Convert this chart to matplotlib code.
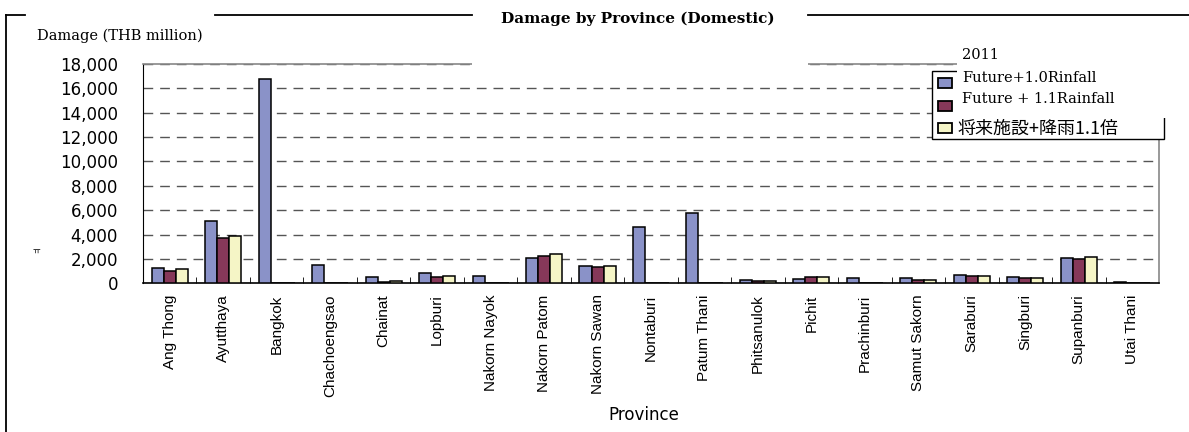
import numpy as np
import matplotlib
matplotlib.use("Agg")
import matplotlib.pyplot as plt
from matplotlib.lines import Line2D
from matplotlib.patches import Rectangle

plt.rcParams['font.family'] = ['DejaVu Sans', 'Noto Sans CJK JP']

# data (THB million)
provinces = ['Ang Thong', 'Ayutthaya', 'Bangkok', 'Chachoengsao', 'Chainat', 'Lopburi',
             'Nakorn Nayok', 'Nakorn Patom', 'Nakorn Sawan', 'Nontaburi', 'Patum Thani',
             'Phitsanulok', 'Pichit', 'Prachinburi', 'Samut Sakorn', 'Saraburi',
             'Singburi', 'Supanburi', 'Utai Thani']
damage_2011 = [1250, 5130, 16800, 1500, 490, 820, 600, 2110, 1400, 4630, 5730,
               270, 380, 410, 410, 655, 490, 2050, 100]
damage_fut10 = [1040, 3700, 0, 0, 80, 520, 0, 2220, 1320, 0, 0,
                190, 490, 0, 245, 560, 410, 1970, 0]
damage_fut11 = [1180, 3890, 0, 0, 190, 575, 0, 2440, 1450, 0, 0,
                220, 520, 0, 300, 600, 460, 2140, 30]

series = [damage_2011, damage_fut10, damage_fut11]
legend_labels = ['Future+1.0Rinfall', 'Future + 1.1Rainfall', '将来施設+降雨1.1倍']
colors = ['#8A92C8', '#863859', '#F5F5C6']

W, H = 1189, 432
fig = plt.figure(figsize=(W / 100, H / 100), dpi=100)
ax = fig.add_axes([143 / W, 1 - 283.3 / H, (1159 - 143) / W, (283.3 - 64) / H])

x = np.arange(len(provinces)) + 0.5
bw = 0.225
for k, vals in enumerate(series):
    ax.bar(x + (k - 1) * bw, vals, width=bw, color=colors[k], edgecolor='black',
           linewidth=1.1, zorder=3)

ax.set_xlim(0, len(provinces))
ax.set_ylim(0, 18000)
ax.set_yticks(np.arange(0, 18001, 2000))
ax.set_yticklabels([f'{v:,}' for v in range(0, 18001, 2000)], fontsize=12)
ax.tick_params(axis='y', length=0, pad=18)

ax.set_xticks(x)
ax.set_xticklabels(provinces, rotation=90, fontsize=11, family='Liberation Sans')
ax.set_xticks(np.arange(1, len(provinces)), minor=True)
ax.tick_params(axis='x', which='major', length=0, pad=8)
ax.tick_params(axis='x', which='minor', length=4, direction='in', color='black')

ax.grid(axis='y', color='#555555', linestyle=(0, (7, 5)), linewidth=1.0, zorder=1)
ax.spines['left'].set_color('black')
ax.spines['bottom'].set_color('black')
ax.spines['bottom'].set_linewidth(1.2)
ax.spines['top'].set_color('#888888')
ax.spines['right'].set_color('#888888')
ax.spines['top'].set_linewidth(1.2)
ax.spines['right'].set_linewidth(1.2)

# outer frame (broken top line like the reference)
for xs in [(6, 25), (215, 472), (808, 1189)]:
    fig.add_artist(Line2D([xs[0] / W, xs[1] / W], [1 - 15 / H] * 2,
                          transform=fig.transFigure, color='black', lw=1.3))
fig.add_artist(Line2D([6 / W, 6 / W], [1 - 15 / H, 0], transform=fig.transFigure,
                      color='black', lw=1.3))

# white title box hides the plot's top border under the title
fig.patches.append(Rectangle((472 / W, 1 - 67 / H), (808 - 472) / W, 58 / H,
                             transform=fig.transFigure, facecolor='white',
                             edgecolor='none', zorder=1))
fig.text(638 / W, 1 - 19 / H, 'Damage by Province (Domestic)', ha='center', va='center',
         family='DejaVu Serif', fontweight='bold', fontsize=11, zorder=3)
fig.text(37 / W, 1 - 36 / H, 'Damage (THB million)', ha='left', va='center',
         family='DejaVu Serif', fontsize=10.5)
fig.text(644 / W, 1 - 415 / H, 'Province', ha='center', va='center', fontsize=12)
fig.text(36 / W, 1 - 251 / H, 'ㅠ', ha='center', va='center', fontsize=6,
         family=['Noto Sans CJK KR'])

# legend drawn like the reference box
fig.patches.append(Rectangle((957 / W, 1 - 71 / H), (W - 957) / W, 26 / H,
                             transform=fig.transFigure, facecolor='white',
                             edgecolor='none', zorder=1))
fig.patches.append(Rectangle((932 / W, 1 - 139 / H), (1164 - 932) / W, 68 / H,
                             transform=fig.transFigure, facecolor='white',
                             edgecolor='black', lw=1.0, zorder=1))
fig.patches.append(Rectangle((957 / W, 1 - 118 / H), (1164 - 957 + 2) / W, 49 / H,
                             transform=fig.transFigure, facecolor='white',
                             edgecolor='none', zorder=1.5))
fig.text(962 / W, 1 - 55 / H, '2011', ha='left', va='center', family='DejaVu Serif',
         fontsize=10.5)
sq_y = [83, 106, 128]
txt_y = [78, 99, 129]
for k in range(3):
    fig.patches.append(Rectangle((938 / W, 1 - (sq_y[k] + 5) / H), 14 / W, 10 / H,
                                 transform=fig.transFigure, facecolor=colors[k],
                                 edgecolor='black', lw=1.3, zorder=2))
    if k < 2:
        fig.text(962 / W, 1 - txt_y[k] / H, legend_labels[k], ha='left', va='center',
                 family='DejaVu Serif', fontsize=10.5)
    else:
        fig.text(958 / W, 1 - txt_y[k] / H, legend_labels[k], ha='left', va='center',
                 family=['Noto Sans CJK JP'], fontsize=13)

fig.savefig('out.png', dpi=100)
